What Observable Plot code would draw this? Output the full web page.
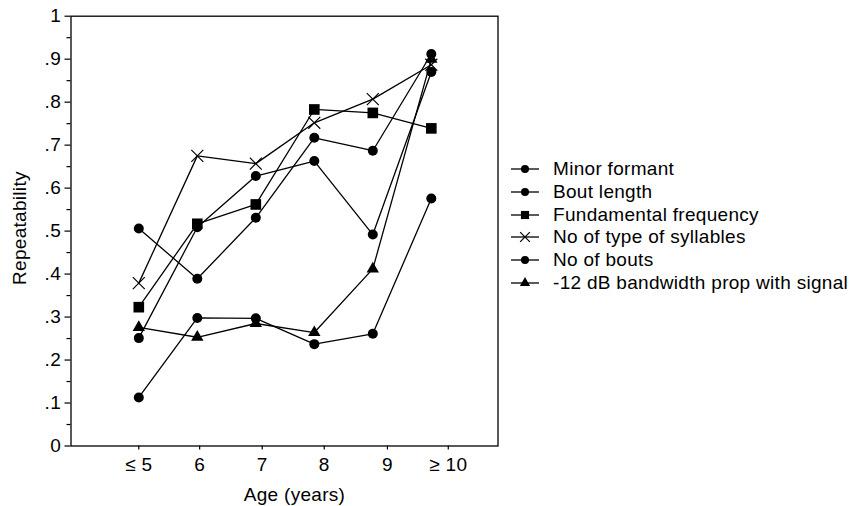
<!DOCTYPE html>
<html><head><meta charset="utf-8">
<script src="https://cdn.jsdelivr.net/npm/d3@7"></script>
<script src="https://cdn.jsdelivr.net/npm/@observablehq/plot@0.6"></script>
<style>
body{margin:0;background:#fff;font-family:"Liberation Sans",Arial,sans-serif;}
#wrap{position:relative;width:857px;height:506px;overflow:hidden;}
#legend{position:absolute;left:510px;top:158px;font-size:19px;letter-spacing:0.3px;color:#000;}
#legend .row{display:flex;align-items:center;height:22.7px;white-space:nowrap;}
#legend svg{margin-right:13px;flex:none;}
svg text{letter-spacing:0.3px;}
</style></head><body><div id="wrap"><div id="legend"></div></div>
<script>
// categories
const ageLabels = ["≤ 5", "6", "7", "8", "9", "≥ 10"];
const ageX = [5, 6, 7, 8, 9, 10];
const tickX = [5, 6.04, 7.11, 8.17, 9.25, 10.29];
const yTicks = [0, .1, .2, .3, .4, .5, .6, .7, .8, .9, 1];
const yMinor = [.05, .15, .25, .35, .45, .55, .65, .75, .85, .95];

// series values (repeatability)
const minorFormant = [0.506, 0.389, 0.531, 0.717, 0.687, 0.912];
const boutLength = [0.251, 0.509, 0.628, 0.663, 0.492, 0.870];
const fundamentalFrequency = [0.323, 0.517, 0.562, 0.783, 0.775, 0.739];
const typeOfSyllables = [0.379, 0.675, 0.657, 0.752, 0.807, 0.887];
const noOfBouts = [0.113, 0.298, 0.297, 0.237, 0.261, 0.576];
const bandwidth12dB = [0.276, 0.253, 0.285, 0.264, 0.412, 0.900];

const seriesNames = ["Minor formant", "Bout length", "Fundamental frequency", "No of type of syllables", "No of bouts", "-12 dB bandwidth prop with signal"];
const seriesValues = [minorFormant, boutLength, fundamentalFrequency, typeOfSyllables, noOfBouts, bandwidth12dB];
const seriesSymbols = ["circle", "circle", "square", "times", "circle", "triangle"];

const symbolR = {circle: 5, square: 6, times: 5.5, triangle: 4.6};

const rows = seriesNames.flatMap((name, s) =>
  seriesValues[s].map((v, i) => ({x: ageX[i], y: v, name, symbol: seriesSymbols[s]})));

const fmt = d => d === 0 ? "0" : d === 1 ? "1" : d.toFixed(1).replace(/^0/, "");

const dotMarks = seriesNames.map((name, s) => {
  const sym = seriesSymbols[s];
  const data = rows.filter(r => r.name === name);
  if (sym === "times") {
    return Plot.dot(data, {x: "x", y: "y", symbol: "times", r: symbolR.times, stroke: "black", strokeWidth: 1.2, fill: "none"});
  }
  return Plot.dot(data, {x: "x", y: "y", symbol: sym, r: symbolR[sym], fill: "black", stroke: "none"});
});

const chart = Plot.plot({
  width: 857,
  height: 506,
  marginLeft: 70.5,
  marginRight: 359.5,
  marginTop: 15.7,
  marginBottom: 60.5,
  style: {fontFamily: "'Liberation Sans', Arial, sans-serif", fontSize: "19px", color: "black", background: "white", overflow: "visible"},
  x: {domain: [3.841, 11.14]},
  y: {domain: [0, 1]},
  marks: [
    Plot.axisY(yMinor, {tickSize: 4, tickFormat: () => "", label: null, strokeWidth: 1.2}),
    Plot.axisY(yTicks, {tickSize: 6, tickPadding: 4, tickFormat: fmt, label: null, strokeWidth: 1.2, fontSize: 19}),
    Plot.axisX(tickX, {tickSize: 4, tickPadding: 7, tickFormat: (d) => ageLabels[tickX.indexOf(d)], label: null, strokeWidth: 1.2, fontSize: 19}),
    Plot.line(rows, {x: "x", y: "y", z: "name", stroke: "black", strokeWidth: 1.3}),
    ...dotMarks,
    Plot.frame({stroke: "black", strokeWidth: 1.3}),
    Plot.text(["Repeatability"], {text: d => d, frameAnchor: "left", textAnchor: "middle", lineAnchor: "middle", rotate: -90, dx: -51, dy: -3, fontSize: 19}),
    Plot.text(["Age (years)"], {text: d => d, frameAnchor: "bottom", textAnchor: "middle", lineAnchor: "middle", dy: 48.5, dx: 10, fontSize: 19})
  ]
});
document.getElementById("wrap").prepend(chart);

// legend
const legend = d3.select("#legend");
seriesNames.forEach((name, s) => {
  const row = legend.append("div").attr("class", "row");
  const svg = row.append("svg").attr("width", 30).attr("height", 14);
  svg.append("line").attr("x1", 1).attr("x2", 29).attr("y1", 7).attr("y2", 7).attr("stroke", "black").attr("stroke-width", 1.3);
  const sym = seriesSymbols[s];
  const map = {circle: d3.symbolCircle, square: d3.symbolSquare, times: d3.symbolTimes, triangle: d3.symbolTriangle};
  const r = {circle: 4, square: 4.6, times: 4.5, triangle: 3.8}[sym];
  const p = svg.append("path").attr("transform", "translate(15,7)").attr("d", d3.symbol(map[sym], Math.PI * r * r)());
  if (sym === "times") p.attr("fill", "none").attr("stroke", "black").attr("stroke-width", 1.2);
  else p.attr("fill", "black");
  row.append("span").text(name);
});
</script>
</body></html>
